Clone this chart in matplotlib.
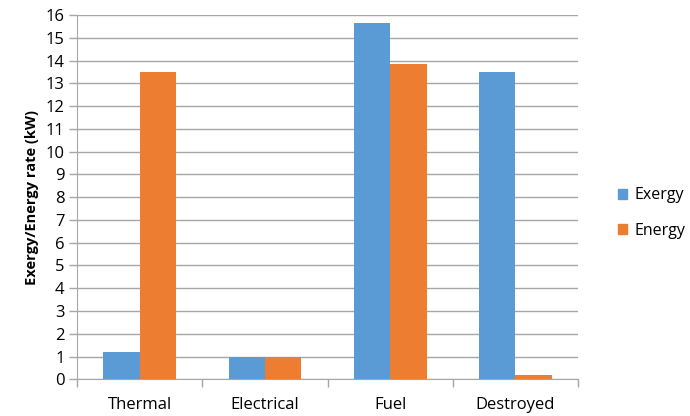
import numpy as np
import matplotlib
matplotlib.use("Agg")
from matplotlib import pyplot as plt
from matplotlib.patches import Patch

# dados
categorias = ["Thermal", "Electrical", "Fuel", "Destroyed"]
exergia = [1.2, 1.0, 15.65, 13.5]
energia = [13.5, 1.0, 13.85, 0.2]

cor_exergia = "#5B9BD5"
cor_energia = "#ED7D31"
cor_grade = "#A6A6A6"

plt.rcParams["font.family"] = ["Open Sans", "DejaVu Sans"]

fig = plt.figure(figsize=(6.9, 4.16), dpi=100)
ax = fig.add_axes([0.1116, 0.0882, 0.7262, 0.8758])

x = np.arange(len(categorias))
largura = 0.29
ax.bar(x - largura / 2, exergia, largura, color=cor_exergia, zorder=3)
ax.bar(x + largura / 2, energia, largura, color=cor_energia, zorder=3)

# eixos e grade
ax.set_xlim(-0.5, len(categorias) - 0.5)
ax.set_ylim(0, 16)
ax.set_yticks(range(0, 17))
ax.yaxis.grid(True, color=cor_grade, linewidth=1, zorder=0)
ax.set_axisbelow(True)

ax.set_xticks(x)
ax.set_xticklabels(categorias, fontsize=12)
ax.set_xticks(np.arange(-0.5, len(categorias)), minor=True)
ax.tick_params(axis="x", which="major", length=0, pad=13)
ax.tick_params(axis="x", which="minor", length=6, color=cor_grade, width=1)
ax.tick_params(axis="y", length=6, color=cor_grade, width=1, labelsize=12, pad=3)

for lado in ["top", "right"]:
    ax.spines[lado].set_visible(False)
ax.spines["left"].set_color(cor_grade)
ax.spines["bottom"].set_color(cor_grade)

ax.set_ylabel("Exergy/Energy rate (kW)", fontsize=10.5, fontweight="bold", labelpad=5)

# legenda
itens = [Patch(color=cor_exergia, label="Exergy"), Patch(color=cor_energia, label="Energy")]
fig.legend(handles=itens, loc="center left", bbox_to_anchor=(0.886, 0.488),
           frameon=False, fontsize=11.5, handlelength=0.6, handleheight=0.6,
           handletextpad=0.45, labelspacing=1.2, borderaxespad=0)

fig.savefig("out.png", dpi=100)
